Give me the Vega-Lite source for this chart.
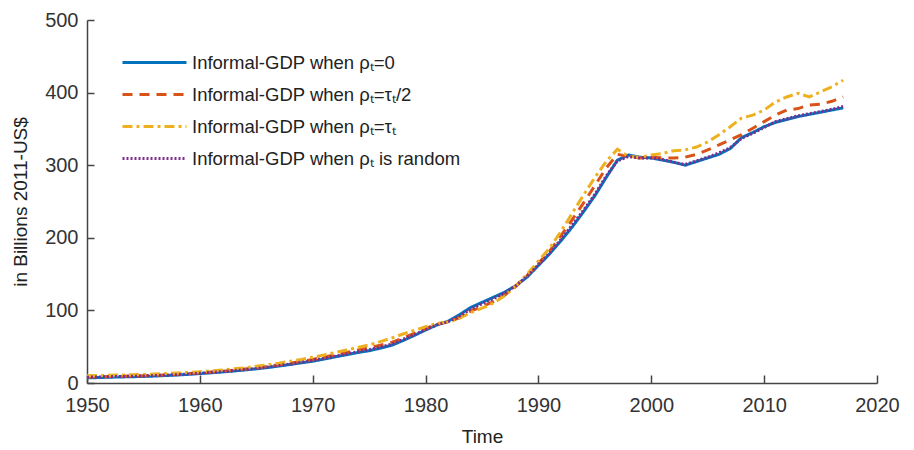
{
 "$schema": "https://vega.github.io/schema/vega-lite/v6.json",
 "autosize": {"type": "none"},
 "width": 790,
 "height": 363,
 "padding": {"left": 87, "top": 20, "right": 37, "bottom": 67},
 "background": "white",
 "config": {"view": {"stroke": null}, "font": "Liberation Sans"},
 "data": {"values": [
  {"year":1950,"a":7,"b":8,"c":10,"d":8},
  {"year":1951,"a":7.5,"b":8.5,"c":10.3,"d":8.3},
  {"year":1952,"a":8,"b":9,"c":10.7,"d":8.7},
  {"year":1953,"a":8.3,"b":9.3,"c":11,"d":9},
  {"year":1954,"a":8.7,"b":9.6,"c":11.4,"d":9.3},
  {"year":1955,"a":9,"b":10,"c":11.8,"d":9.7},
  {"year":1956,"a":9.6,"b":10.6,"c":12.3,"d":10.2},
  {"year":1957,"a":10.3,"b":11.2,"c":13,"d":10.8},
  {"year":1958,"a":11,"b":12,"c":13.7,"d":11.5},
  {"year":1959,"a":12,"b":13,"c":14.6,"d":12.5},
  {"year":1960,"a":13,"b":14,"c":15.5,"d":13.5},
  {"year":1961,"a":14,"b":15,"c":16.6,"d":14.5},
  {"year":1962,"a":15.2,"b":16.3,"c":18,"d":15.7},
  {"year":1963,"a":16.5,"b":17.7,"c":19.5,"d":17},
  {"year":1964,"a":18,"b":19.3,"c":21,"d":18.5},
  {"year":1965,"a":19.5,"b":21,"c":23,"d":20},
  {"year":1966,"a":21.3,"b":23,"c":25,"d":22},
  {"year":1967,"a":23.3,"b":25,"c":27.3,"d":24},
  {"year":1968,"a":25.5,"b":27.3,"c":30,"d":26},
  {"year":1969,"a":27.8,"b":29.8,"c":32.5,"d":28.5},
  {"year":1970,"a":30,"b":32.5,"c":35.5,"d":31},
  {"year":1971,"a":33,"b":35.5,"c":38.5,"d":34},
  {"year":1972,"a":36,"b":39,"c":42,"d":37},
  {"year":1973,"a":39,"b":42,"c":45.5,"d":40},
  {"year":1974,"a":42,"b":45.5,"c":49,"d":43},
  {"year":1975,"a":44.5,"b":48.5,"c":52.5,"d":46},
  {"year":1976,"a":48,"b":52,"c":57,"d":49.5},
  {"year":1977,"a":52,"b":56,"c":62,"d":53.5},
  {"year":1978,"a":58.5,"b":62,"c":67.5,"d":60},
  {"year":1979,"a":65.5,"b":68.5,"c":72.5,"d":66.5},
  {"year":1980,"a":73,"b":75,"c":77.5,"d":73.5},
  {"year":1981,"a":80,"b":81,"c":82,"d":80},
  {"year":1982,"a":85,"b":84,"c":84,"d":84.5},
  {"year":1983,"a":94,"b":90,"c":89,"d":92},
  {"year":1984,"a":104,"b":99,"c":97,"d":102},
  {"year":1985,"a":111,"b":105,"c":103,"d":109},
  {"year":1986,"a":118,"b":112,"c":110,"d":116},
  {"year":1987,"a":125,"b":121,"c":120,"d":124},
  {"year":1988,"a":134,"b":133,"c":134,"d":134},
  {"year":1989,"a":146,"b":148,"c":150,"d":147},
  {"year":1990,"a":162,"b":165,"c":168,"d":163},
  {"year":1991,"a":178,"b":182,"c":186,"d":179},
  {"year":1992,"a":196,"b":203,"c":209,"d":198},
  {"year":1993,"a":215,"b":225,"c":234,"d":218},
  {"year":1994,"a":236,"b":248,"c":259,"d":238},
  {"year":1995,"a":258,"b":272,"c":283,"d":260},
  {"year":1996,"a":283,"b":296,"c":305,"d":285},
  {"year":1997,"a":307,"b":315,"c":322,"d":306},
  {"year":1998,"a":314,"b":312,"c":312,"d":312},
  {"year":1999,"a":311,"b":310,"c":311,"d":310},
  {"year":2000,"a":310,"b":311,"c":314,"d":310},
  {"year":2001,"a":307,"b":310,"c":316,"d":308},
  {"year":2002,"a":304,"b":310,"c":320,"d":304},
  {"year":2003,"a":300,"b":311,"c":321,"d":301},
  {"year":2004,"a":305,"b":315,"c":325,"d":306},
  {"year":2005,"a":310,"b":321,"c":332,"d":311},
  {"year":2006,"a":315,"b":328,"c":342,"d":317},
  {"year":2007,"a":323,"b":335,"c":353,"d":324},
  {"year":2008,"a":338,"b":342,"c":365,"d":337},
  {"year":2009,"a":345,"b":351,"c":369,"d":344},
  {"year":2010,"a":353,"b":360,"c":376,"d":352},
  {"year":2011,"a":359,"b":369,"c":387,"d":360},
  {"year":2012,"a":363,"b":376,"c":394,"d":364},
  {"year":2013,"a":367,"b":378,"c":399,"d":368},
  {"year":2014,"a":370,"b":383,"c":394,"d":371},
  {"year":2015,"a":373,"b":384,"c":401,"d":374},
  {"year":2016,"a":376,"b":388,"c":408,"d":377},
  {"year":2017,"a":379,"b":394,"c":417,"d":381}
 ]},
 "transform": [{"fold": ["a", "b", "c", "d"], "as": ["series", "value"]}],
 "mark": {"type": "line", "strokeWidth": 3},
 "encoding": {
  "x": {
   "field": "year", "type": "quantitative",
   "scale": {"domain": [1950, 2020], "nice": false, "zero": false},
   "axis": {
    "title": "Time", "values": [1950,1960,1970,1980,1990,2000,2010,2020], "format": "d",
    "grid": false, "tickSize": -8, "labelPadding": 20, "labelFontSize": 20, "labelColor": "#333",
    "titleFontSize": 19, "titleFontWeight": "normal", "titleColor": "#222", "titlePadding": 12,
    "domainColor": "#444", "tickColor": "#444", "domainWidth": 1.5, "tickWidth": 1.5, "labelFlush": false
   }
  },
  "y": {
   "field": "value", "type": "quantitative",
   "scale": {"domain": [0, 500], "nice": false},
   "axis": {
    "title": "in Billions 2011-US$", "values": [0,100,200,300,400,500],
    "grid": false, "tickSize": -7, "labelPadding": 16, "labelFontSize": 20, "labelColor": "#333",
    "titleFontSize": 19, "titleFontWeight": "normal", "titleColor": "#222", "titlePadding": 14,
    "domainColor": "#444", "tickColor": "#444", "domainWidth": 1.5, "tickWidth": 1.5, "labelFlush": false
   }
  },
  "color": {
   "field": "series", "type": "nominal",
   "scale": {"domain": ["a", "b", "c", "d"], "range": ["#0072BD", "#D95319", "#EDB120", "#7E2F8E"]},
   "legend": {
    "orient": "none", "legendX": 58, "legendY": 33, "title": null,
    "symbolType": "M-4,0H4", "symbolSize": 256, "symbolStrokeWidth": 3,
    "labelFontSize": 18.5, "labelOffset": 28, "rowPadding": 13, "labelColor": "#222",
    "labelLimit": 400,
    "labelExpr": "datum.label == 'a' ? 'Informal-GDP when ρₜ=0' : datum.label == 'b' ? 'Informal-GDP when ρₜ=τₜ/2' : datum.label == 'c' ? 'Informal-GDP when ρₜ=τₜ' : 'Informal-GDP when ρₜ is random'"
   }
  },
  "strokeDash": {
   "field": "series", "type": "nominal",
   "scale": {"domain": ["a", "b", "c", "d"], "range": [[1, 0], [10, 7], [10, 4, 3, 4], [2, 2]]},
   "legend": {
    "orient": "none", "legendX": 58, "legendY": 33, "title": null,
    "symbolType": "M-4,0H4", "symbolSize": 256, "symbolStrokeWidth": 3,
    "labelFontSize": 18.5, "labelOffset": 28, "rowPadding": 13, "labelColor": "#222",
    "labelLimit": 400,
    "labelExpr": "datum.label == 'a' ? 'Informal-GDP when ρₜ=0' : datum.label == 'b' ? 'Informal-GDP when ρₜ=τₜ/2' : datum.label == 'c' ? 'Informal-GDP when ρₜ=τₜ' : 'Informal-GDP when ρₜ is random'"
   }
  }
 }
}
